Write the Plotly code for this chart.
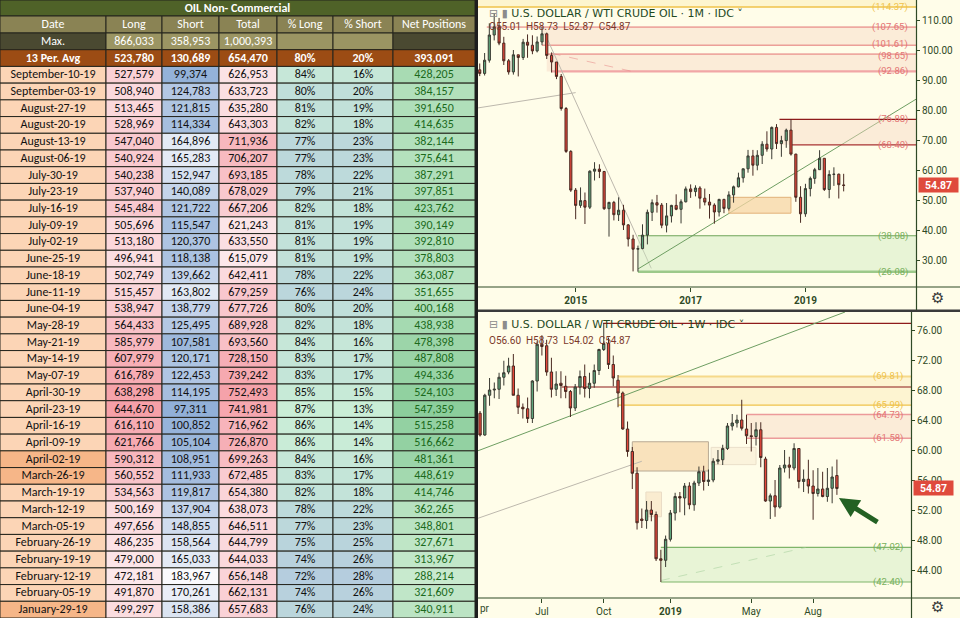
import plotly.graph_objects as go
import pandas as pd

# ---------------- TABLE DATA ----------------
title_text = "OIL Non- Commercial"
headers = ["Date", "Long", "Short", "Total", "% Long", "% Short", "Net Positions"]
max_row = ["Max.", 866033, 358953, 1000393]
avg_row = ["13 Per. Avg", 523780, 130689, 654470, 80, 20, 393091]

dates = ["September-10-19", "September-03-19", "August-27-19", "August-20-19", "August-13-19",
         "August-06-19", "July-30-19", "July-23-19", "July-16-19", "July-09-19", "July-02-19",
         "June-25-19", "June-18-19", "June-11-19", "June-04-19", "May-28-19", "May-21-19",
         "May-14-19", "May-07-19", "April-30-19", "April-23-19", "April-16-19", "April-09-19",
         "April-02-19", "March-26-19", "March-19-19", "March-12-19", "March-05-19",
         "February-26-19", "February-19-19", "February-12-19", "February-05-19", "January-29-19"]
longs = [527579, 508940, 513465, 528969, 547040, 540924, 540238, 537940, 545484, 505696, 513180,
         496941, 502749, 515457, 538947, 564433, 585979, 607979, 616789, 638298, 644670, 616110,
         621766, 590312, 560552, 534563, 500169, 497656, 486235, 479000, 472181, 491870, 499297]
shorts = [99374, 124783, 121815, 114334, 164896, 165283, 152947, 140089, 121722, 115547, 120370,
          118138, 139662, 163802, 138779, 125495, 107581, 120171, 122453, 114195, 97311, 100852,
          105104, 108951, 111933, 119817, 137904, 148855, 158564, 165033, 183967, 170261, 158386]
totals = [626953, 633723, 635280, 643303, 711936, 706207, 693185, 678029, 667206, 621243, 633550,
          615079, 642411, 679259, 677726, 689928, 693560, 728150, 739242, 752493, 741981, 716962,
          726870, 699263, 672485, 654380, 638073, 646511, 644799, 644033, 656148, 662131, 657683]
pct_long = [84, 80, 81, 82, 77, 77, 78, 79, 82, 81, 81, 81, 78, 76, 80, 82, 84, 83, 83, 85, 87, 86,
            86, 84, 83, 82, 78, 77, 75, 74, 72, 74, 76]
pct_short = [16, 20, 19, 18, 23, 23, 22, 21, 18, 19, 19, 19, 22, 24, 20, 18, 16, 17, 17, 15, 13, 14,
             14, 16, 17, 18, 22, 23, 25, 26, 28, 26, 24]
net = [428205, 384157, 391650, 414635, 382144, 375641, 387291, 397851, 423762, 390149, 392810,
       378803, 363087, 351655, 400168, 438938, 478398, 487808, 494336, 524103, 547359, 515258,
       516662, 481361, 448619, 414746, 362265, 348801, 327671, 313967, 288214, 321609, 340911]
highlight_dates = {"April-02-19", "March-26-19", "January-29-19"}

# ---------------- MONTHLY CANDLES (1M) ----------------
m_first = "2013-05-01"
m_open = [93.4, 92.2, 96.6, 105.0, 107.7, 102.3, 96.4, 92.7, 98.4, 97.5, 102.6, 101.6, 99.7, 102.7,
          105.4, 98.2, 96.0, 91.2, 80.5, 66.2,
          53.3, 48.2, 49.8, 47.6, 59.6, 60.3, 59.5, 47.1, 49.2, 45.1, 46.6, 41.7,
          37.0, 33.6, 33.8, 38.3, 45.9, 49.1, 48.3, 41.6, 44.7, 48.2, 46.9, 49.4,
          53.7, 52.8, 54.0, 50.6, 49.3, 48.3, 46.0, 50.2, 47.2, 51.7, 54.4, 57.4,
          60.4, 64.7, 61.6, 64.9, 68.6, 67.0, 74.2, 68.8, 69.8, 73.3, 65.3, 50.9,
          45.4, 53.8, 57.2, 60.1, 63.9, 53.5, 58.5, 58.6, 55.01]
m_high = [95.5, 99.0, 108.9, 112.2, 110.7, 104.4, 97.0, 100.0, 98.4, 103.7, 105.2, 104.9, 104.5, 107.7,
          105.8, 99.2, 96.0, 92.0, 81.0, 66.6,
          54.0, 54.2, 52.5, 59.9, 62.6, 61.9, 59.7, 49.4, 49.7, 50.9, 48.4, 42.0,
          38.4, 34.8, 41.9, 46.8, 50.2, 51.7, 49.0, 49.0, 48.4, 51.9, 50.2, 54.5,
          55.2, 54.9, 54.6, 53.8, 52.0, 48.9, 50.4, 50.4, 52.9, 54.8, 59.1, 60.5,
          66.7, 66.7, 66.6, 69.6, 72.9, 74.5, 75.3, 71.4, 73.8, 76.9, 65.4, 54.6,
          55.4, 57.8, 60.7, 66.6, 63.9, 59.9, 60.9, 58.8, 58.73]
m_low = [91.3, 91.5, 95.8, 103.2, 101.6, 95.0, 91.8, 91.8, 91.2, 96.7, 97.4, 98.6, 99.2, 101.6,
         97.0, 92.5, 90.3, 79.8, 65.7, 52.7,
         43.6, 47.4, 42.0, 47.0, 56.5, 57.3, 46.7, 37.8, 43.2, 43.0, 40.0, 34.5,
         26.2, 26.1, 33.6, 35.2, 43.0, 45.8, 40.6, 39.2, 42.5, 46.6, 42.2, 49.2,
         50.7, 51.2, 47.1, 48.2, 43.8, 42.1, 44.5, 45.6, 46.5, 49.1, 54.2, 55.8,
         59.1, 58.1, 59.9, 62.0, 66.1, 63.6, 67.0, 64.4, 67.4, 64.8, 49.4, 42.4,
         44.4, 51.2, 55.4, 60.0, 53.0, 50.6, 54.7, 50.5, 52.87]
m_close = [92.2, 96.6, 105.0, 107.7, 102.3, 96.4, 92.7, 98.4, 97.5, 102.6, 101.6, 99.7, 102.7, 105.4,
           98.2, 96.0, 91.2, 80.5, 66.2, 53.3,
           48.2, 49.8, 47.6, 59.6, 60.3, 59.5, 47.1, 49.2, 45.1, 46.6, 41.7, 37.0,
           33.6, 33.8, 38.3, 45.9, 49.1, 48.3, 41.6, 44.7, 48.2, 46.9, 49.4, 53.7,
           52.8, 54.0, 50.6, 49.3, 48.3, 46.0, 50.2, 47.2, 51.7, 54.4, 57.4, 60.4,
           64.7, 61.6, 64.9, 68.6, 67.0, 74.2, 68.8, 69.8, 73.3, 65.3, 50.9, 45.4,
           53.8, 57.2, 60.1, 63.9, 53.5, 58.5, 58.6, 55.1, 54.87]

# ---------------- WEEKLY CANDLES (1W) ----------------
w_first = "2018-04-02"
w_open = [64.9, 62.0, 67.3, 68.0, 68.1, 69.7, 70.4, 71.2, 67.3, 65.7, 65.5, 64.2, 69.2, 74.1, 73.9,
          70.4, 68.1, 68.9, 68.5, 67.8, 65.6, 68.4, 69.8, 68.2, 68.9, 70.6, 73.4, 74.2, 71.4, 69.3,
          67.6, 62.8, 59.8, 56.9, 50.8, 50.6, 52.0, 51.4, 45.5, 45.3, 48.1, 51.6, 53.8, 53.6, 55.2,
          52.7, 55.6, 57.1, 55.8, 56.0, 58.5, 58.7, 60.2, 63.2, 63.6, 64.0, 62.8, 61.9, 61.8, 62.7,
          58.8, 53.2, 53.9, 52.4, 57.6, 58.0, 57.6, 60.2, 55.8, 56.1, 55.2, 54.2, 54.8, 53.8, 54.9,
          56.60]
w_high = [65.2, 67.5, 69.6, 69.0, 70.3, 71.9, 72.3, 72.8, 68.2, 66.2, 67.0, 69.3, 74.5, 75.3, 74.7,
          72.3, 70.5, 70.5, 69.9, 68.0, 68.8, 70.6, 71.4, 70.3, 71.4, 73.5, 76.9, 75.0, 72.6, 70.0,
          67.8, 63.8, 60.4, 57.7, 52.2, 53.2, 53.2, 51.8, 46.7, 48.6, 52.0, 54.3, 54.4, 55.6, 55.7,
          55.9, 57.8, 57.9, 57.4, 58.9, 60.0, 60.7, 63.6, 64.8, 64.7, 66.7, 64.7, 63.6, 63.7, 63.7,
          59.1, 54.2, 56.0, 58.0, 60.0, 59.1, 60.9, 60.2, 57.4, 58.7, 57.3, 57.6, 57.1, 57.6, 57.8,
          58.73]
w_low = [61.8, 61.9, 65.9, 66.9, 66.8, 68.6, 70.1, 67.3, 64.8, 64.2, 63.6, 63.6, 67.8, 72.6, 69.9,
         67.0, 67.2, 66.9, 66.9, 64.4, 65.2, 67.4, 67.0, 66.9, 68.3, 70.0, 73.2, 70.8, 68.5, 65.7,
         62.7, 59.1, 54.8, 49.4, 49.6, 49.5, 50.5, 45.2, 42.4, 44.4, 47.8, 50.6, 51.7, 51.3, 52.1,
         51.9, 55.2, 54.6, 55.2, 55.7, 58.1, 58.0, 60.0, 62.6, 63.0, 62.6, 60.8, 59.8, 60.6, 57.7,
         53.1, 50.8, 51.1, 52.2, 57.0, 56.2, 57.3, 54.9, 54.4, 54.2, 50.7, 53.8, 53.7, 53.1, 52.9,
         54.02]
w_close = [62.0, 67.3, 68.0, 68.1, 69.7, 70.3, 71.2, 67.3, 65.7, 65.5, 64.2, 69.2, 74.1, 73.8, 70.4,
           68.1, 68.8, 68.6, 67.8, 65.6, 68.4, 69.8, 68.2, 68.9, 70.6, 73.4, 74.2, 71.4, 69.6, 67.6,
           62.8, 59.8, 56.9, 50.3, 50.6, 52.0, 51.4, 45.5, 45.3, 48.1, 51.6, 53.8, 53.6, 55.2, 52.7,
           55.6, 57.1, 55.8, 56.0, 58.5, 58.7, 60.2, 63.2, 63.6, 64.0, 62.9, 61.9, 61.8, 62.7, 59.0,
           53.2, 53.9, 52.4, 57.6, 58.0, 57.7, 60.2, 55.8, 56.1, 55.2, 54.2, 54.8, 53.8, 54.9, 56.4,
           54.87]

last_price = 54.87
top_ohlc = "O55.01  H58.73  L52.87  C54.87"
bot_ohlc = "O56.60  H58.73  L54.02  C54.87"
top_title = "U.S. DOLLAR / WTI CRUDE OIL · 1M · IDC"
bot_title = "U.S. DOLLAR / WTI CRUDE OIL · 1W · IDC"

# ---------------- helpers ----------------
W, H = 960, 618
def px(x):
    return x / W
def py(y):
    return 1 - y / H

def lerp(c0, c1, t):
    return "rgb(%d,%d,%d)" % tuple(round(a + (b - a) * t) for a, b in zip(c0, c1))

def scale(vals, c_lo, c_hi):
    lo, hi = min(vals), max(vals)
    return [lerp(c_lo, c_hi, (v - lo) / (hi - lo)) for v in vals]

fmt = lambda v: f"{v:,}"

fig = go.Figure()
shapes = []
annos = []

# ---------------- TABLE (drawn on hidden axis x3/y3) ----------------
DARK = "#4a4931"
KHAKI = "#9b9563"
AVG = "#9c4c14"
HEAD = "#8a8354"
BORDER = "#24241c"
col_vals = [
    [max_row[0], "<b>%s</b>" % avg_row[0]] + dates,
    [fmt(max_row[1]), "<b>%s</b>" % fmt(avg_row[1])] + [fmt(v) for v in longs],
    [fmt(max_row[2]), "<b>%s</b>" % fmt(avg_row[2])] + [fmt(v) for v in shorts],
    [fmt(max_row[3]), "<b>%s</b>" % fmt(avg_row[3])] + [fmt(v) for v in totals],
    ["", "<b>%d%%</b>" % avg_row[4]] + ["%d%%" % v for v in pct_long],
    ["", "<b>%d%%</b>" % avg_row[5]] + ["%d%%" % v for v in pct_short],
    ["", "<b>%s</b>" % fmt(avg_row[6])] + [fmt(v) for v in net],
]
date_fill = ["#f6b688" if d in highlight_dates else "#fcd5b6" for d in dates]
col_fill = [
    [DARK, AVG] + date_fill,
    [KHAKI, AVG] + scale(longs, (252, 232, 235), (246, 160, 168)),
    [KHAKI, AVG] + scale(shorts, (146, 176, 216), (250, 250, 253)),
    [KHAKI, AVG] + scale(totals, (252, 232, 235), (245, 162, 170)),
    [KHAKI, AVG] + scale(pct_long, (181, 205, 222), (202, 238, 214)),
    [KHAKI, AVG] + scale(pct_short, (202, 238, 214), (181, 205, 222)),
    [DARK, AVG] + scale(net, (200, 234, 206), (140, 206, 156)),
]
n = len(dates)
col_font = [["white", "white"] + ["#111111"] * n for _ in range(6)] + \
           [["white", "white"] + ["#1c6a1c"] * n]

TFONT = "Carlito, Lato, Arial, sans-serif"
col_w = [106, 56, 57, 58, 56, 60, 82]
col_x = [0]
for w_ in col_w:
    col_x.append(col_x[-1] + w_)
TITLE_H, HDR_BOT = 16, 33
row_h = (H - HDR_BOT) / (n + 2)

shapes.append(dict(type="rect", xref="x3", yref="y3", x0=0, x1=col_x[-1], y0=0, y1=TITLE_H,
                   fillcolor="#4f6228", line=dict(color=BORDER, width=1), layer="below"))
for j in range(7):
    shapes.append(dict(type="rect", xref="x3", yref="y3", x0=col_x[j], x1=col_x[j + 1],
                       y0=TITLE_H, y1=HDR_BOT, fillcolor=HEAD, line=dict(color=BORDER, width=1),
                       layer="below"))
    for i in range(n + 2):
        shapes.append(dict(type="rect", xref="x3", yref="y3", x0=col_x[j], x1=col_x[j + 1],
                           y0=HDR_BOT + i * row_h, y1=HDR_BOT + (i + 1) * row_h,
                           fillcolor=col_fill[j][i], line=dict(color=BORDER, width=1), layer="below"))

fig.add_trace(go.Scatter(x=[col_x[-1] / 2], y=[TITLE_H / 2 + 0.5], text=["<b>%s</b>" % title_text],
                         mode="text", xaxis="x3", yaxis="y3", hoverinfo="skip", showlegend=False,
                         textfont=dict(family=TFONT, size=12, color="white")))
for j in range(7):
    xs = [(col_x[j] + col_x[j + 1]) / 2] * (n + 3)
    ys = [(TITLE_H + HDR_BOT) / 2 + 0.5] + [HDR_BOT + (i + 0.5) * row_h + 0.5 for i in range(n + 2)]
    fig.add_trace(go.Scatter(x=xs, y=ys, text=[headers[j]] + col_vals[j], mode="text",
                             xaxis="x3", yaxis="y3", hoverinfo="skip", showlegend=False,
                             textfont=dict(family=TFONT, size=12, color=["white"] + col_font[j])))

# ---------------- CANDLES ----------------
m_dates = pd.date_range(m_first, periods=len(m_close), freq="MS")
w_dates = pd.date_range(w_first, periods=len(w_close), freq="7D")

GREEN_FILL = "#5ea57c"
RED_FILL = "#e5473b"
inc = dict(line=dict(color="#3a3a32", width=1), fillcolor=GREEN_FILL)
dec = dict(line=dict(color="#4a2a22", width=1), fillcolor=RED_FILL)

fig.add_trace(go.Candlestick(x=m_dates, open=m_open, high=m_high, low=m_low, close=m_close,
                             xaxis="x", yaxis="y", increasing=inc, decreasing=dec,
                             hoverinfo="skip", showlegend=False, whiskerwidth=0))
fig.add_trace(go.Candlestick(x=w_dates, open=w_open, high=w_high, low=w_low, close=w_close,
                             xaxis="x2", yaxis="y2", increasing=inc, decreasing=dec,
                             hoverinfo="skip", showlegend=False, whiskerwidth=0))

# ---------------- AXES ----------------
AX = "#2f4a26"
TOP_X0, TOP_X1 = "2013-04-20", "2020-12-04"
BOT_X0, BOT_X1 = "2018-03-30", "2019-12-27"
TOP_Y = [21.0, 116.67]
BOT_Y = [40.27, 78.4]
tickfont = dict(family="Roboto, DejaVu Sans, sans-serif", size=10, color=AX)

fig.update_layout(
    width=W, height=H, margin=dict(l=0, r=0, t=0, b=0),
    paper_bgcolor="#fffde9", plot_bgcolor="#fffde9", showlegend=False,
    xaxis=dict(domain=[px(478), px(916)], anchor="y", type="date", range=[TOP_X0, TOP_X1],
               tickvals=["2015-01-01", "2017-01-01", "2019-01-01"],
               ticktext=["<b>2015</b>", "<b>2017</b>", "<b>2019</b>"],
               ticks="outside", ticklen=4, tickcolor=AX, tickfont=tickfont, showgrid=False,
               zeroline=False, showline=False, rangeslider=dict(visible=False), fixedrange=True),
    yaxis=dict(domain=[py(287), 1], anchor="x", side="right", range=TOP_Y,
               tickvals=[30, 40, 50, 60, 70, 80, 90, 100, 110], tickformat=".2f",
               ticks="outside", ticklen=3, tickcolor=AX, tickfont=tickfont, showgrid=False,
               zeroline=False, showline=False, fixedrange=True),
    xaxis2=dict(domain=[px(478), px(911)], anchor="y2", type="date", range=[BOT_X0, BOT_X1],
                tickvals=["2018-07-02", "2018-10-01", "2019-01-07", "2019-05-06", "2019-08-05"],
                ticktext=["Jul", "Oct", "<b>2019</b>", "May", "Aug"],
                ticks="outside", ticklen=4, tickcolor=AX, tickfont=tickfont, showgrid=False,
                zeroline=False, showline=False, rangeslider=dict(visible=False), fixedrange=True),
    yaxis2=dict(domain=[py(598), py(312)], anchor="x2", side="right", range=BOT_Y,
                tickvals=[44, 48, 52, 56, 60, 64, 68, 72, 76], tickformat=".2f",
                ticks="outside", ticklen=3, tickcolor=AX, tickfont=tickfont, showgrid=False,
                zeroline=False, showline=False, fixedrange=True),
    xaxis3=dict(domain=[0, px(475)], anchor="y3", range=[0, col_x[-1]], visible=False, fixedrange=True),
    yaxis3=dict(domain=[0, 1], anchor="x3", range=[H, 0], visible=False, fixedrange=True),
)

def hline(xr, yr, x0, x1, y, color, width=1, dash="solid"):
    shapes.append(dict(type="line", xref=xr, yref=yr, x0=x0, x1=x1, y0=y, y1=y,
                       line=dict(color=color, width=width, dash=dash), layer="below"))

def seg(xr, yr, x0, y0, x1, y1, color, width=1, dash="solid"):
    shapes.append(dict(type="line", xref=xr, yref=yr, x0=x0, x1=x1, y0=y0, y1=y1,
                       line=dict(color=color, width=width, dash=dash), layer="below"))

def box(xr, yr, x0, x1, y0, y1, fill, line="rgba(0,0,0,0)", width=1):
    shapes.append(dict(type="rect", xref=xr, yref=yr, x0=x0, x1=x1, y0=y0, y1=y1,
                       fillcolor=fill, line=dict(color=line, width=width), layer="below"))

def lvl_label(yr, y, text, color, xpix, shift=0):
    annos.append(dict(xref="paper", yref=yr, x=px(xpix), y=y, text="(%s)" % text, showarrow=False,
                      xanchor="right", yanchor="middle", yshift=shift,
                      font=dict(family="Roboto, DejaVu Sans, sans-serif", size=9.5, color=color)))

GOLD = "#efc24a"
PINK = "#e37474"
PINKFILL = "rgba(246,214,196,0.45)"
LGREEN = "#78b05c"
DRED = "#8e1b1b"

# ---- top chart overlays ----
box("x", "y", TOP_X0, TOP_X1, 114.37, 116.67, "rgba(252,240,190,0.6)")
hline("x", "y", TOP_X0, TOP_X1, 114.37, GOLD, 1.5)
box("x", "y", "2014-06-01", TOP_X1, 101.61, 107.65, PINKFILL)
hline("x", "y", "2013-06-15", TOP_X1, 107.65, PINK, 1)
hline("x", "y", "2014-06-01", TOP_X1, 101.61, PINK, 1)
box("x", "y", "2014-07-01", TOP_X1, 92.86, 98.65, PINKFILL)
hline("x", "y", "2014-07-01", TOP_X1, 98.65, PINK, 1)
hline("x", "y", "2014-08-01", TOP_X1, 92.86, "#f1a6a6", 2.2)
seg("x", "y", "2014-08-01", 98.9, "2016-01-01", 92.8, "rgba(230,130,130,0.5)", 1, "dash")
seg("x", "y", TOP_X0, 80.7, "2015-01-01", 85.8, "#bdb8ad", 1)
seg("x", "y", "2014-06-18", 105.6, "2016-04-26", 27.2, "#bdb8ad", 1)
box("x", "y", "2016-02-01", TOP_X1, 26.08, 38.08, "rgba(205,232,190,0.45)")
hline("x", "y", "2016-02-01", TOP_X1, 38.08, "#6ea55a", 1)
hline("x", "y", "2016-02-01", TOP_X1, 26.08, "#9cc98a", 2.5)
seg("x", "y", "2016-02-01", 27.0, TOP_X1, 83.6, "#6e9e62", 1)
box("x", "y", "2017-09-01", "2018-10-01", 45.6, 50.9, "rgba(247,214,166,0.75)", "#e2b27a", 1)
box("x", "y", "2018-07-20", TOP_X1, 68.40, 76.88, PINKFILL)
hline("x", "y", "2018-07-20", TOP_X1, 76.88, DRED, 1.2)
hline("x", "y", "2018-10-01", TOP_X1, 68.40, "#a83232", 1.2)

for v, c, s in [("114.37", GOLD, 0), ("107.65", PINK, 0), ("101.61", PINK, 1.5), ("98.65", PINK, -1.5),
                ("92.86", PINK, 0), ("76.88", PINK, 0), ("68.40", PINK, 0), ("38.08", LGREEN, 0),
                ("26.08", LGREEN, 0)]:
    lvl_label("y", float(v), v, c, 910, s)

# ---- bottom chart overlays ----
hline("x2", "y2", "2018-09-30", BOT_X1, 76.88, DRED, 1.2)
box("x2", "y2", "2018-10-22", BOT_X1, 65.99, 69.81, "rgba(252,236,190,0.55)")
hline("x2", "y2", "2018-10-22", BOT_X1, 69.81, "#f6d98a", 2)
hline("x2", "y2", "2018-10-22", BOT_X1, 65.99, GOLD, 1.2)
hline("x2", "y2", "2018-07-31", BOT_X1, 68.40, DRED, 1.2)
box("x2", "y2", "2019-04-29", BOT_X1, 61.58, 64.73, PINKFILL)
hline("x2", "y2", "2019-04-29", BOT_X1, 64.73, "#ec9a9a", 1.5)
hline("x2", "y2", "2019-04-29", BOT_X1, 61.58, "#ec9a9a", 1.5)
box("x2", "y2", "2018-11-12", "2019-03-04", 57.2, 61.1, "rgba(247,216,172,0.75)", "#b8aa94", 1)
box("x2", "y2", "2019-03-08", "2019-05-13", 58.05, 60.35, "rgba(250,238,214,0.7)", "#eadfca", 1)
box("x2", "y2", "2018-12-02", "2018-12-25", 51.1, 54.4, "rgba(248,228,196,0.7)", "#eadcc6", 1)
box("x2", "y2", "2018-12-24", BOT_X1, 42.40, 47.02, "rgba(205,232,190,0.45)")
hline("x2", "y2", "2018-12-24", BOT_X1, 47.02, "#7fb56a", 1.2)
hline("x2", "y2", "2018-12-24", BOT_X1, 42.40, "#7fb56a", 1.2)
seg("x2", "y2", "2018-12-24", 42.6, "2019-07-25", 47.0, "rgba(170,210,160,0.6)", 1, "dash")
seg("x2", "y2", BOT_X0, 50.9, "2018-11-26", 58.5, "#bdb8ad", 1)
seg("x2", "y2", BOT_X0, 59.9, "2019-09-21", 78.4, "#6e9e62", 1)

for v, c, s in [("69.81", GOLD, 0), ("65.99", GOLD, 0.5), ("64.73", PINK, -0.5), ("61.58", PINK, 0),
                ("47.02", LGREEN, 0), ("42.40", LGREEN, 0)]:
    lvl_label("y2", float(v), v, c, 905, s)

# ---- frames ----
def pshape(x0, y0, x1, y1, color, kind="rect", width=1):
    if kind == "rect":
        shapes.append(dict(type="rect", xref="paper", yref="paper", x0=px(x0), x1=px(x1),
                           y0=py(y1), y1=py(y0), fillcolor=color, line=dict(width=0), layer="above"))
    else:
        shapes.append(dict(type="line", xref="paper", yref="paper", x0=px(x0), x1=px(x1),
                           y0=py(y0), y1=py(y1), line=dict(color=color, width=width), layer="above"))

pshape(475, 0, 478, 618, "#1e1e1e")
pshape(478, 309.5, 960, 312, "#3a3a3a")
pshape(478, 287, 960, 287, AX, "line", 1.2)
pshape(916.5, 0, 916.5, 310, AX, "line", 1.2)
pshape(478, 598, 960, 598, AX, "line", 1.2)
pshape(911.5, 312, 911.5, 618, AX, "line", 1.2)

# legends / titles
LFONT = "DejaVu Sans, sans-serif"
for ytitle, yohlc, ttl, ohlc in [(14, 27, top_title, top_ohlc), (324, 340, bot_title, bot_ohlc)]:
    annos.append(dict(xref="paper", yref="paper", x=px(487), y=py(ytitle), showarrow=False,
                      xanchor="left", yanchor="middle",
                      text="<span style='color:#8c8c8c'>⊟ ▮</span> " + ttl + " ˅",
                      font=dict(family=LFONT, size=11, color="#1f4a1f")))
    annos.append(dict(xref="paper", yref="paper", x=px(487), y=py(yohlc), showarrow=False,
                      xanchor="left", yanchor="middle", text=ohlc,
                      font=dict(family="Roboto, DejaVu Sans, sans-serif", size=10, color="#7b3a2c")))

# last-price tags
for yr, xp in [("y", 918), ("y2", 913)]:
    annos.append(dict(xref="paper", yref=yr, x=px(xp), y=last_price, text="<b>%.2f</b>" % last_price,
                      showarrow=False, xanchor="left", yanchor="middle", bgcolor="#df4a3c",
                      width=37, height=12, borderpad=1,
                      font=dict(family="Roboto, DejaVu Sans, sans-serif", size=10.5, color="white")))

# cut-off 'Apr' label at left edge of weekly chart
annos.append(dict(xref="paper", yref="paper", x=px(478), y=py(608), text="pr", showarrow=False,
                  xanchor="left", yanchor="middle", font=tickfont))

# gear icons
for yy in [298, 607]:
    annos.append(dict(xref="paper", yref="paper", x=px(937), y=py(yy), text="⚙", showarrow=False,
                      xanchor="center", yanchor="middle", font=dict(family=LFONT, size=15, color="#3a3a3a")))

# green arrow
annos.append(dict(xref="x2", yref="y2", x="2019-09-12", y=53.6, text="", showarrow=True,
                  ax=40, ay=25, arrowhead=2, arrowsize=0.8, arrowwidth=5, arrowcolor="#236123"))

fig.update_layout(shapes=shapes, annotations=annos)
fig.write_html("out.html", config={"displayModeBar": False},
               post_script="document.body.style.margin='0';document.body.style.padding='0';")
